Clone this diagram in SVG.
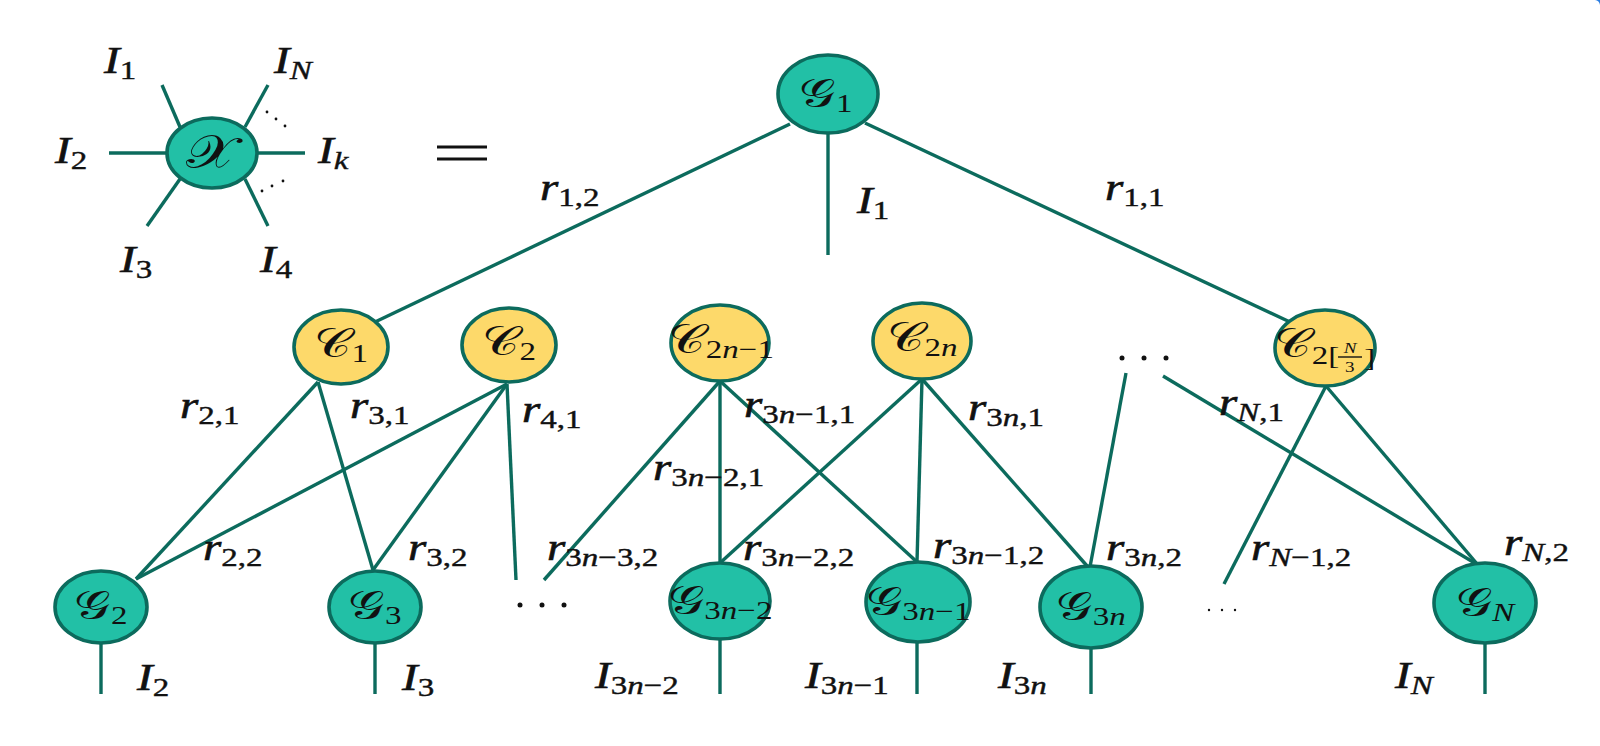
<svg xmlns="http://www.w3.org/2000/svg" width="1600" height="746" viewBox="0 0 1600 746">
<style>
.tn{fill:#22c0a6;stroke:#0c6b5d;stroke-width:3.6}
.yn{fill:#fdd96a;stroke:#0c6b5d;stroke-width:3.6}
.e{stroke:#0c6b5d;stroke-width:3.4;fill:none;stroke-linecap:butt}
.lb{font-family:"Liberation Serif","DejaVu Serif",serif;font-size:37px;font-style:italic;fill:#111;stroke:#111;stroke-width:0.6}
.s{font-family:"Liberation Serif","DejaVu Serif",serif;font-size:26px;font-style:normal;stroke-width:0.4}
.i{font-style:italic}
.nl{font-family:"DejaVu Serif","DejaVu Sans","Noto Sans",serif;font-size:40px;font-style:normal;fill:#111;text-anchor:middle}
.dot{fill:#111}
</style>
<rect width="1600" height="746" fill="#ffffff"/>
<path d="M1595,0 A6,6 0 0 1 1600,5 L1600,0 Z" fill="#2a7de1"/>

<g id="connectors">
  <line class="e" x1="162" y1="85" x2="180" y2="127"/>
  <line class="e" x1="268" y1="85" x2="245" y2="127"/>
  <line class="e" x1="109" y1="153" x2="167" y2="153"/>
  <line class="e" x1="257" y1="153" x2="305" y2="153"/>
  <line class="e" x1="180" y1="179" x2="147" y2="226"/>
  <line class="e" x1="245" y1="179" x2="268" y2="226"/>
  <line class="e" x1="790" y1="124" x2="375" y2="322"/>
  <line class="e" x1="828" y1="130" x2="828" y2="255"/>
  <line class="e" x1="865" y1="123" x2="1290" y2="322"/>
  <line class="e" x1="318" y1="382" x2="136" y2="579"/>
  <line class="e" x1="318" y1="382" x2="373" y2="570"/>
  <line class="e" x1="507" y1="384" x2="136" y2="579"/>
  <line class="e" x1="507" y1="384" x2="373" y2="570"/>
  <line class="e" x1="507" y1="384" x2="516" y2="580"/>
  <line class="e" x1="720" y1="381" x2="544" y2="580"/>
  <line class="e" x1="720" y1="381" x2="720" y2="563"/>
  <line class="e" x1="720" y1="381" x2="917" y2="562"/>
  <line class="e" x1="922" y1="379" x2="720" y2="563"/>
  <line class="e" x1="922" y1="379" x2="917" y2="562"/>
  <line class="e" x1="922" y1="379" x2="1088" y2="567"/>
  <line class="e" x1="1126" y1="373" x2="1090" y2="567"/>
  <line class="e" x1="1163" y1="376" x2="1478" y2="565"/>
  <line class="e" x1="1326" y1="386" x2="1224" y2="584"/>
  <line class="e" x1="1326" y1="386" x2="1478" y2="565"/>
  <line class="e" x1="101" y1="642" x2="101" y2="694"/>
  <line class="e" x1="375" y1="642" x2="375" y2="694"/>
  <line class="e" x1="720" y1="638" x2="720" y2="694"/>
  <line class="e" x1="917" y1="641" x2="917" y2="694"/>
  <line class="e" x1="1091" y1="647" x2="1091" y2="694"/>
  <line class="e" x1="1485" y1="642" x2="1485" y2="694"/>
</g>

<g id="node-X">
  <ellipse class="tn" cx="212" cy="153" rx="45" ry="35"/>
  <text class="nl" style="font-size:46px" transform="translate(212 168) scale(1.27 1)">𝒳</text>
</g>

<g id="equals">
  <line x1="437" y1="147" x2="487" y2="147" stroke="#111" stroke-width="2.8"/>
  <line x1="437" y1="159" x2="487" y2="159" stroke="#111" stroke-width="2.8"/>
</g>

<g id="node-G1">
  <ellipse class="tn" cx="828" cy="94" rx="50" ry="39"/>
  <text class="nl" transform="translate(826 107) scale(1.27 1)">𝒢<tspan class="s" dy="5">1</tspan></text>
</g>

<g id="node-C1">
  <ellipse class="yn" cx="341" cy="347" rx="47" ry="37"/>
  <text class="nl" transform="translate(341 357) scale(1.27 1)">𝒞<tspan class="s" dy="5">1</tspan></text>
</g>
<g id="node-C2">
  <ellipse class="yn" cx="509" cy="345" rx="47" ry="37"/>
  <text class="nl" transform="translate(509 355) scale(1.27 1)">𝒞<tspan class="s" dy="5">2</tspan></text>
</g>
<g id="node-C2n-1">
  <ellipse class="yn" cx="720" cy="343" rx="49" ry="38"/>
  <text class="nl" transform="translate(721 353) scale(1.27 1)">𝒞<tspan class="s" dy="5">2<tspan class="i">n</tspan>−1</tspan></text>
</g>
<g id="node-C2n">
  <ellipse class="yn" cx="922" cy="341" rx="49" ry="38"/>
  <text class="nl" transform="translate(922 351) scale(1.27 1)">𝒞<tspan class="s" dy="5">2<tspan class="i">n</tspan></tspan></text>
</g>
<g id="node-C2N3">
  <ellipse class="yn" cx="1325" cy="348" rx="50" ry="38"/>
  <text class="nl" style="text-anchor:start" transform="translate(1274 357) scale(1.27 1)">𝒞<tspan class="s" dy="7">2[</tspan><tspan class="s i" x="55" y="-4" style="font-size:15px;stroke-width:0.2">N</tspan><tspan class="s" x="56" y="15" style="font-size:15px;stroke-width:0.2">3</tspan><tspan class="s" x="71" y="9">]</tspan></text>
  <line x1="1338" y1="357" x2="1362" y2="357" stroke="#111" stroke-width="1.4"/>
</g>

<g id="node-G2">
  <ellipse class="tn" cx="101" cy="607" rx="46" ry="36"/>
  <text class="nl" transform="translate(101 619) scale(1.27 1)">𝒢<tspan class="s" dy="5">2</tspan></text>
</g>
<g id="node-G3">
  <ellipse class="tn" cx="375" cy="607" rx="46" ry="36"/>
  <text class="nl" transform="translate(375 619) scale(1.27 1)">𝒢<tspan class="s" dy="5">3</tspan></text>
</g>
<g id="node-G3n-2">
  <ellipse class="tn" cx="720" cy="601" rx="50" ry="38"/>
  <text class="nl" transform="translate(720 614) scale(1.27 1)">𝒢<tspan class="s" dy="5">3<tspan class="i">n</tspan>−2</tspan></text>
</g>
<g id="node-G3n-1">
  <ellipse class="tn" cx="918" cy="602" rx="52" ry="40"/>
  <text class="nl" transform="translate(918 615) scale(1.27 1)">𝒢<tspan class="s" dy="5">3<tspan class="i">n</tspan>−1</tspan></text>
</g>
<g id="node-G3n">
  <ellipse class="tn" cx="1091" cy="607" rx="51" ry="41"/>
  <text class="nl" transform="translate(1091 620) scale(1.27 1)">𝒢<tspan class="s" dy="5">3<tspan class="i">n</tspan></tspan></text>
</g>
<g id="node-GN">
  <ellipse class="tn" cx="1485" cy="603" rx="51" ry="40"/>
  <text class="nl" transform="translate(1485 616) scale(1.27 1)">𝒢<tspan class="s i" dy="5">N</tspan></text>
</g>

<g id="dots">
  <circle class="dot" cx="267" cy="112" r="1.4"/><circle class="dot" cx="276" cy="119" r="1.4"/><circle class="dot" cx="285" cy="126" r="1.4"/>
  <circle class="dot" cx="262" cy="191" r="1.4"/><circle class="dot" cx="272" cy="186" r="1.4"/><circle class="dot" cx="283" cy="181" r="1.4"/>
  <circle class="dot" cx="1122" cy="358" r="2.5"/><circle class="dot" cx="1144" cy="358" r="2.5"/><circle class="dot" cx="1166" cy="358" r="2.5"/>
  <circle class="dot" cx="520" cy="605" r="2.5"/><circle class="dot" cx="542" cy="605" r="2.5"/><circle class="dot" cx="564" cy="605" r="2.5"/>
  <circle class="dot" cx="1209" cy="610" r="1.2"/><circle class="dot" cx="1222" cy="610" r="1.2"/><circle class="dot" cx="1235" cy="610" r="1.2"/>
</g>

<g id="labels">
  <text class="lb" transform="translate(104 73) scale(1.27 1)">I<tspan class="s" dy="6">1</tspan></text>
  <text class="lb" transform="translate(274 73) scale(1.27 1)">I<tspan class="s i" dy="6">N</tspan></text>
  <text class="lb" transform="translate(55 163) scale(1.27 1)">I<tspan class="s" dy="6">2</tspan></text>
  <text class="lb" transform="translate(318 163) scale(1.27 1)">I<tspan class="s i" dy="6">k</tspan></text>
  <text class="lb" transform="translate(120 272) scale(1.27 1)">I<tspan class="s" dy="6">3</tspan></text>
  <text class="lb" transform="translate(260 272) scale(1.27 1)">I<tspan class="s" dy="6">4</tspan></text>

  <text class="lb" transform="translate(540 200) scale(1.27 1)">r<tspan class="s" dy="6">1,2</tspan></text>
  <text class="lb" transform="translate(857 213) scale(1.27 1)">I<tspan class="s" dy="6">1</tspan></text>
  <text class="lb" transform="translate(1105 200) scale(1.27 1)">r<tspan class="s" dy="6">1,1</tspan></text>

  <text class="lb" transform="translate(180 418) scale(1.27 1)">r<tspan class="s" dy="6">2,1</tspan></text>
  <text class="lb" transform="translate(350 418) scale(1.27 1)">r<tspan class="s" dy="6">3,1</tspan></text>
  <text class="lb" transform="translate(522 422) scale(1.27 1)">r<tspan class="s" dy="6">4,1</tspan></text>
  <text class="lb" transform="translate(744 417) scale(1.27 1)">r<tspan class="s" dy="6">3<tspan class="i">n</tspan>−1,1</tspan></text>
  <text class="lb" transform="translate(968 420) scale(1.27 1)">r<tspan class="s" dy="6">3<tspan class="i">n</tspan>,1</tspan></text>
  <text class="lb" transform="translate(1219 415) scale(1.27 1)">r<tspan class="s" dy="6"><tspan class="i">N</tspan>,1</tspan></text>
  <text class="lb" transform="translate(653 480) scale(1.27 1)">r<tspan class="s" dy="6">3<tspan class="i">n</tspan>−2,1</tspan></text>

  <text class="lb" transform="translate(203 560) scale(1.27 1)">r<tspan class="s" dy="6">2,2</tspan></text>
  <text class="lb" transform="translate(408 560) scale(1.27 1)">r<tspan class="s" dy="6">3,2</tspan></text>
  <text class="lb" transform="translate(547 560) scale(1.27 1)">r<tspan class="s" dy="6">3<tspan class="i">n</tspan>−3,2</tspan></text>
  <text class="lb" transform="translate(743 560) scale(1.27 1)">r<tspan class="s" dy="6">3<tspan class="i">n</tspan>−2,2</tspan></text>
  <text class="lb" transform="translate(933 558) scale(1.27 1)">r<tspan class="s" dy="6">3<tspan class="i">n</tspan>−1,2</tspan></text>
  <text class="lb" transform="translate(1106 560) scale(1.27 1)">r<tspan class="s" dy="6">3<tspan class="i">n</tspan>,2</tspan></text>
  <text class="lb" transform="translate(1251 560) scale(1.27 1)">r<tspan class="s" dy="6"><tspan class="i">N</tspan>−1,2</tspan></text>
  <text class="lb" transform="translate(1504 555) scale(1.27 1)">r<tspan class="s" dy="6"><tspan class="i">N</tspan>,2</tspan></text>

  <text class="lb" transform="translate(137 690) scale(1.27 1)">I<tspan class="s" dy="6">2</tspan></text>
  <text class="lb" transform="translate(402 690) scale(1.27 1)">I<tspan class="s" dy="6">3</tspan></text>
  <text class="lb" transform="translate(595 688) scale(1.27 1)">I<tspan class="s" dy="6">3<tspan class="i">n</tspan>−2</tspan></text>
  <text class="lb" transform="translate(805 688) scale(1.27 1)">I<tspan class="s" dy="6">3<tspan class="i">n</tspan>−1</tspan></text>
  <text class="lb" transform="translate(998 688) scale(1.27 1)">I<tspan class="s" dy="6">3<tspan class="i">n</tspan></tspan></text>
  <text class="lb" transform="translate(1395 688) scale(1.27 1)">I<tspan class="s i" dy="6">N</tspan></text>
</g>
</svg>
